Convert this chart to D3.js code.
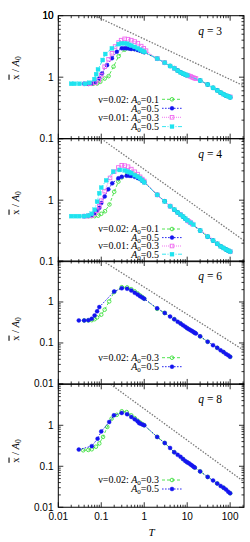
<!DOCTYPE html>
<html><head><meta charset="utf-8">
<script src="https://cdn.jsdelivr.net/npm/d3@7"></script>
<style>body{margin:0;background:#fff}svg{display:block}</style>
</head><body>
<script>
// ---------- data ----------
const qNumbers = ["3", "4", "6", "8"];
const yDomains = [[0.1, 10], [0.1, 10], [0.01, 10], [0.01, 10]];
const xTickValues = [0.01, 0.1, 1, 10, 100];
const xTickLabels = ["0.01", "0.1", "1", "10", "100"];
const yTickLabels = {"10": "10", "1": "1", "0.1": "0.1", "0.01": "0.01"};

// q = 3
const p1_green = [[0.05,0.78],[0.065,0.78],[0.08,0.79],[0.095,0.84],[0.12,0.95],[0.148,1.04],[0.193,1.48],[0.254,2.2],[0.35,2.8],[0.45,2.95],[0.5,2.95],[0.6,2.88],[0.7,2.8],[0.8,2.72],[0.9,2.64],[1,2.56],[2,2.0],[3,1.72],[4,1.52],[5,1.4],[6,1.28],[7,1.2],[8,1.14],[9,1.1],[10,1.07],[20,0.88],[30,0.76],[40,0.67],[50,0.61],[60,0.56],[70,0.53],[80,0.5],[90,0.49],[100,0.47]];
const p1_blue = [[0.04,0.78],[0.05,0.78],[0.06,0.79],[0.073,0.84],[0.09,0.95],[0.104,1.15],[0.136,1.57],[0.177,2.03],[0.23,2.6],[0.3,2.95],[0.35,2.95],[0.4,2.95],[0.45,2.92],[0.5,2.88],[0.6,2.85],[0.7,2.77],[0.8,2.7],[0.9,2.62],[1,2.55],[2,2.0],[3,1.72],[4,1.52],[5,1.4],[6,1.28],[7,1.2],[8,1.14],[9,1.1],[10,1.07],[20,0.88],[30,0.76],[40,0.67],[50,0.61],[60,0.56],[70,0.53],[80,0.5],[90,0.49],[100,0.47]];
const p1_pink = [[0.042,0.78],[0.055,0.78],[0.073,0.81],[0.087,0.89],[0.1,1.08],[0.12,1.48],[0.148,1.95],[0.177,2.45],[0.21,3.15],[0.254,3.66],[0.29,4.0],[0.35,4.2],[0.42,4.15],[0.5,4.0],[0.6,3.8],[0.71,3.57],[0.85,3.2],[0.97,2.95],[1.1,2.7],[2,2.0],[3,1.72],[5,1.4],[10,1.08],[11,1.05],[12,1.03],[13,1.0],[14,0.98],[15,0.96],[16,0.95],[100,0.48]];
const p1_cyan = [[0.02,0.78],[0.024,0.78],[0.031,0.78],[0.042,0.78],[0.053,0.81],[0.069,0.93],[0.076,1.12],[0.084,1.34],[0.108,1.9],[0.124,2.38],[0.177,2.95],[0.254,3.45],[0.3,3.55],[0.35,3.55],[0.4,3.5],[0.45,3.35],[0.5,3.25],[0.6,3.1],[0.7,2.95],[0.8,2.8],[0.9,2.68],[1,2.58],[2,2.0],[3,1.72],[4,1.52],[5,1.4],[6,1.28],[7,1.2],[8,1.14],[9,1.1],[10,1.07],[20,0.88],[30,0.76],[40,0.67],[50,0.61],[60,0.56],[70,0.53],[80,0.5],[90,0.49],[100,0.47]];
const p1_guide = [[0.07,10],[210,0.72]];

// q = 4
const p2_green = [[0.05,0.55],[0.06,0.55],[0.07,0.55],[0.085,0.56],[0.1,0.6],[0.122,0.66],[0.155,0.85],[0.2,1.37],[0.25,2.0],[0.3,2.35],[0.4,2.7],[0.5,2.72],[0.6,2.6],[0.7,2.45],[0.8,2.3],[0.9,2.12],[1,1.98],[2,1.22],[3,0.96],[4,0.8],[5,0.7],[6,0.63],[7,0.58],[8,0.54],[9,0.5],[10,0.47],[20,0.32],[30,0.255],[40,0.22],[50,0.195],[60,0.178],[70,0.167],[80,0.158],[90,0.151],[100,0.145]];
const p2_blue = [[0.04,0.55],[0.05,0.56],[0.06,0.58],[0.07,0.62],[0.08,0.68],[0.09,0.75],[0.1,0.9],[0.12,1.15],[0.146,1.5],[0.18,1.88],[0.25,2.27],[0.3,2.4],[0.39,2.5],[0.45,2.5],[0.5,2.48],[0.6,2.4],[0.7,2.3],[0.8,2.2],[0.9,2.07],[1,1.95],[2,1.22],[3,0.96],[4,0.8],[5,0.7],[6,0.63],[7,0.58],[8,0.54],[9,0.5],[10,0.47],[20,0.32],[30,0.255],[40,0.22],[50,0.195],[60,0.178],[70,0.167],[80,0.158],[90,0.151],[100,0.145]];
const p2_pink = [[0.04,0.55],[0.05,0.55],[0.06,0.56],[0.07,0.6],[0.08,0.68],[0.09,0.8],[0.1,0.98],[0.12,1.4],[0.16,2.3],[0.2,2.9],[0.25,3.4],[0.3,3.7],[0.35,3.65],[0.42,3.5],[0.5,3.2],[0.6,2.9],[0.7,2.65],[0.8,2.4],[0.9,2.2],[1,2.05],[2,1.22],[4,0.8],[7,0.58],[10,0.47],[11,0.45],[12,0.43],[13,0.41],[100,0.145]];
const p2_cyan = [[0.02,0.55],[0.025,0.55],[0.031,0.55],[0.04,0.55],[0.05,0.56],[0.06,0.6],[0.07,0.7],[0.08,0.95],[0.09,1.3],[0.1,1.6],[0.13,2.1],[0.19,2.9],[0.27,3.1],[0.35,3.05],[0.4,2.95],[0.45,2.85],[0.5,2.75],[0.6,2.55],[0.7,2.4],[0.8,2.25],[0.9,2.1],[1,1.95],[2,1.22],[3,0.96],[4,0.8],[5,0.7],[6,0.63],[7,0.58],[8,0.54],[9,0.5],[10,0.47],[12,0.43],[14,0.4],[20,0.32],[30,0.255],[40,0.22],[50,0.195],[60,0.178],[70,0.167],[80,0.158],[90,0.151],[100,0.145]];
const p2_guide = [[0.1,10],[210,0.22]];

// q = 6
const p3_green = [[0.04,0.355],[0.05,0.355],[0.06,0.36],[0.07,0.38],[0.08,0.42],[0.1,0.49],[0.12,0.65],[0.153,1.03],[0.2,1.75],[0.3,2.3],[0.4,2.27],[0.5,2.05],[0.6,1.82],[0.7,1.62],[0.8,1.45],[0.9,1.32],[1,1.2],[2,0.68],[3,0.54],[5,0.38],[7,0.3],[10,0.23],[15,0.177],[20,0.145],[30,0.107],[50,0.076],[70,0.06],[100,0.046]];
const p3_blue = [[0.03,0.355],[0.04,0.355],[0.05,0.36],[0.06,0.39],[0.07,0.47],[0.08,0.59],[0.09,0.75],[0.2,1.81],[0.3,2.15],[0.4,2.1],[0.5,1.9],[0.6,1.68],[0.7,1.52],[0.8,1.38],[0.9,1.28],[1,1.2],[2,0.7],[3,0.54],[4,0.44],[5,0.38],[6,0.33],[7,0.3],[8,0.27],[9,0.25],[10,0.23],[11,0.215],[12,0.205],[13,0.195],[14,0.185],[15,0.177],[16,0.17],[20,0.145],[30,0.107],[40,0.088],[50,0.076],[60,0.066],[70,0.06],[80,0.054],[90,0.05],[100,0.046]];
const p3_guide = [[0.11,10],[210,0.066]];

// q = 8
const p4_green = [[0.038,0.245],[0.05,0.25],[0.06,0.26],[0.075,0.3],[0.09,0.36],[0.11,0.52],[0.138,0.91],[0.174,1.45],[0.23,1.8],[0.3,2.2],[0.39,2.1],[0.5,1.75],[0.6,1.5],[0.7,1.3],[0.8,1.17],[0.9,1.07],[1,1.0],[2,0.52],[3,0.37],[5,0.22],[8,0.15],[10,0.125],[15,0.093],[20,0.075],[30,0.055],[50,0.038],[70,0.03],[100,0.022]];
const p4_blue = [[0.03,0.255],[0.06,0.31],[0.082,0.47],[0.1,0.71],[0.153,1.2],[0.197,1.75],[0.3,2.0],[0.4,1.86],[0.5,1.6],[0.6,1.4],[0.7,1.25],[0.76,1.14],[0.8,1.1],[0.9,1.05],[1,1.0],[2,0.52],[3,0.37],[4,0.28],[5,0.22],[6,0.19],[7,0.17],[8,0.15],[9,0.135],[10,0.125],[11,0.118],[12,0.11],[13,0.104],[14,0.098],[15,0.093],[20,0.075],[30,0.055],[40,0.045],[50,0.038],[60,0.033],[70,0.03],[80,0.027],[90,0.024],[100,0.022]];
const p4_guide = [[0.165,10],[210,0.042]];

// legend entries: [nu prefix, A0 value, style key]
const legend4 = [["ν=0.02: ", "0.1", "green"], ["", "0.5", "blue"], ["ν=0.01: ", "0.3", "pink"], ["", "0.5", "cyan"]];
const legend2 = [["ν=0.02: ", "0.3", "green"], ["", "0.5", "blue"]];

// ---------- styles / layout ----------
const styles = {
  green: {color: "#3ee03e", dash: "3,2", shape: "circle", filled: false},
  blue:  {color: "#1414f0", dash: "1.6,1.4", shape: "circle", filled: true},
  pink:  {color: "#f06af0", dash: "1,1", shape: "square", filled: false},
  cyan:  {color: "#1fe3ef", dash: "4,1.5,1,1.5", shape: "square", filled: true}
};
const panels = [
  {series: [["green", p1_green], ["blue", p1_blue], ["pink", p1_pink], ["cyan", p1_cyan]], guide: p1_guide, legend: legend4, legendY: [99.3, 108.3, 117.3, 126.6], labelY: 68, yLabels: [10, 1, 0.1]},
  {series: [["green", p2_green], ["blue", p2_blue], ["pink", p2_pink], ["cyan", p2_cyan]], guide: p2_guide, legend: legend4, legendY: [229, 237.6, 246, 254.2], labelY: 203, yLabels: [1, 0.1]},
  {series: [["green", p3_green], ["blue", p3_blue]], guide: p3_guide, legend: legend2, legendY: [357.7, 366.7], labelY: 329, yLabels: [1, 0.1, 0.01]},
  {series: [["green", p4_green], ["blue", p4_blue]], guide: p4_guide, legend: legend2, legendY: [480, 489], labelY: 451, yLabels: [1, 0.1, 0.01]}
];
const W = 250, H = 542;
const X0 = 58.3, X1 = 244;
const tops = [15.7, 138.7, 261, 384.3];
const PH = 122.95;
const sans = "Liberation Sans, Arial, sans-serif";
const serif = "Liberation Serif, Times New Roman, serif";

const svg = d3.select("body").append("svg").attr("width", W).attr("height", H);
const x = d3.scaleLog().domain([0.01, 210]).range([X0, X1]);

function minorTicks(lo, hi) {
  const out = [];
  for (let e = Math.floor(Math.log10(lo)); e <= Math.ceil(Math.log10(hi)); e++) {
    for (let m = 1; m <= 9; m++) {
      const v = m * Math.pow(10, e);
      if (v >= lo * 0.999 && v <= hi * 1.001) out.push({v, major: m === 1});
    }
  }
  return out;
}

panels.forEach((p, i) => {
  const top = tops[i], bot = top + PH;
  const y = d3.scaleLog().domain(yDomains[i]).range([bot, top]);
  const g = svg.append("g");
  const clipId = "clip" + i;
  svg.append("clipPath").attr("id", clipId).append("rect")
    .attr("x", X0).attr("y", top).attr("width", X1 - X0).attr("height", PH);

  // ticks
  const tg = g.append("g").attr("stroke", "#000").attr("stroke-width", 0.8);
  minorTicks(0.01, 210).forEach(t => {
    const L = t.major ? 5 : 2.5, xx = x(t.v);
    tg.append("line").attr("x1", xx).attr("x2", xx).attr("y1", bot).attr("y2", bot - L);
    tg.append("line").attr("x1", xx).attr("x2", xx).attr("y1", top).attr("y2", top + L);
  });
  minorTicks(yDomains[i][0], yDomains[i][1]).forEach(t => {
    const L = t.major ? 5 : 2.5, yy = y(t.v);
    tg.append("line").attr("x1", X0).attr("x2", X0 + L).attr("y1", yy).attr("y2", yy);
    tg.append("line").attr("x1", X1).attr("x2", X1 - L).attr("y1", yy).attr("y2", yy);
  });

  // y tick labels
  p.yLabels.forEach(v => {
    g.append("text").attr("x", 53.5).attr("y", y(v) + 3.5).attr("text-anchor", "end")
      .attr("font-family", sans).attr("font-size", 10).text(yTickLabels[String(v)]);
  });

  // guide line
  g.append("path").attr("clip-path", `url(#${clipId})`)
    .attr("d", d3.line().x(d => x(d[0])).y(d => y(d[1]))(p.guide))
    .attr("fill", "none").attr("stroke", "#7a7a7a").attr("stroke-width", 1.3).attr("stroke-dasharray", "1.5,1.5");

  const line = d3.line().x(d => x(d[0])).y(d => y(d[1]));
  const drawMarker = (sel, st, cx, cy) => {
    if (st.shape === "circle") {
      sel.append("circle").attr("cx", cx).attr("cy", cy).attr("r", st.filled ? 2.0 : 1.8)
        .attr("fill", st.filled ? st.color : "none").attr("stroke", st.color).attr("stroke-width", st.filled ? 0.4 : 0.9);
    } else {
      const s = st.filled ? 4.0 : 3.6;
      sel.append("rect").attr("x", cx - s / 2).attr("y", cy - s / 2).attr("width", s).attr("height", s)
        .attr("fill", st.filled ? st.color : "none").attr("stroke", st.color).attr("stroke-width", st.filled ? 0.3 : 0.9);
    }
  };

  const dg = g.append("g").attr("clip-path", `url(#${clipId})`);
  p.series.forEach(([key, data]) => {
    const st = styles[key];
    const sg = dg.append("g");
    sg.append("path").attr("d", line(data)).attr("fill", "none").attr("stroke", st.color)
      .attr("stroke-width", 0.9).attr("stroke-dasharray", st.dash);
    data.forEach(d => drawMarker(sg, st, x(d[0]), y(d[1])));
  });

  // legend
  p.legend.forEach((row, k) => {
    const st = styles[row[2]];
    const ly = p.legendY[k];
    const t = g.append("text").attr("x", 159).attr("y", ly + 3.3).attr("text-anchor", "end")
      .attr("font-family", serif).attr("font-size", 10);
    if (row[0]) t.append("tspan").text(row[0]);
    t.append("tspan").attr("font-style", "italic").text("A");
    t.append("tspan").attr("font-size", 7).attr("dy", 2).text("0");
    t.append("tspan").attr("dy", -2).text("=" + row[1]);
    g.append("line").attr("x1", 162).attr("x2", 182).attr("y1", ly).attr("y2", ly)
      .attr("stroke", st.color).attr("stroke-width", 0.9).attr("stroke-dasharray", st.dash);
    drawMarker(g, st, 172, ly);
  });

  // panel label
  const ql = g.append("text").attr("x", 222).attr("y", top + 19).attr("text-anchor", "end")
    .attr("font-family", serif).attr("font-size", 11.5);
  ql.append("tspan").attr("font-style", "italic").text("q");
  ql.append("tspan").text(" = " + qNumbers[i]);

  // y axis label
  const yl = g.append("text").attr("transform", `translate(18.5,${p.labelY}) rotate(-90)`)
    .attr("text-anchor", "middle").attr("font-family", serif).attr("font-size", 10.5);
  yl.append("tspan").attr("style", "text-decoration:overline").text("x");
  yl.append("tspan").text(" / ");
  yl.append("tspan").attr("font-style", "italic").text("A");
  yl.append("tspan").attr("font-size", 7.5).attr("dy", 2.5).text("0");

  // frame
  g.append("rect").attr("x", X0).attr("y", top).attr("width", X1 - X0).attr("height", PH)
    .attr("fill", "none").attr("stroke", "#000").attr("stroke-width", 1);
});

// top label of first panel
{
  const y0 = d3.scaleLog().domain(yDomains[0]).range([tops[0] + PH, tops[0]]);
  svg.append("text").attr("x", 53.5).attr("y", y0(10) + 3.5).attr("text-anchor", "end")
    .attr("font-family", sans).attr("font-size", 10).text(yTickLabels["10"]);
}

// x tick labels
const lastBot = tops[3] + PH;
xTickValues.forEach((v, k) => {
  svg.append("text").attr("x", x(v)).attr("y", lastBot + 12.5).attr("text-anchor", "middle")
    .attr("font-family", sans).attr("font-size", 10).text(xTickLabels[k]);
});
svg.append("text").attr("x", 151.5).attr("y", 535.5).attr("text-anchor", "middle")
  .attr("font-family", serif).attr("font-style", "italic").attr("font-size", 11).text("T");
</script>
</body></html>
